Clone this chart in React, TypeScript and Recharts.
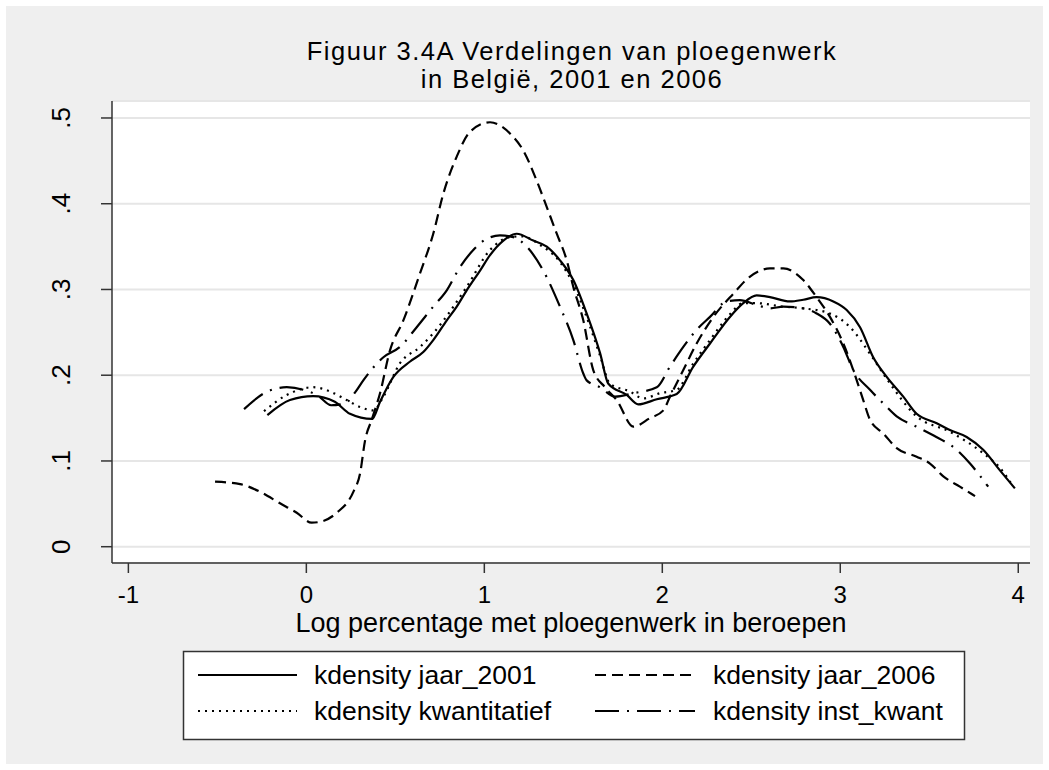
import React from 'react';
import { LineChart, Line, XAxis, YAxis, CartesianGrid } from 'recharts';

const xTicks = [-1, 0, 1, 2, 3, 4];
const yTicks = [0, 0.1, 0.2, 0.3, 0.4, 0.5];
const yTickLabels = ['0', '.1', '.2', '.3', '.4', '.5'];

const seriesNames = ['kdensity jaar_2001', 'kdensity jaar_2006', 'kdensity kwantitatief', 'kdensity inst_kwant'];

const x2001 = [-0.219, -0.092, 0.038, 0.16, 0.245, 0.369, 0.414, 0.489, 0.583, 0.657, 0.713, 0.789, 0.845, 0.901, 0.976, 1.032, 1.107, 1.182, 1.275, 1.351, 1.425, 1.5, 1.575, 1.65, 1.697, 1.8, 1.865, 1.969, 2.081, 2.174, 2.268, 2.38, 2.455, 2.53, 2.605, 2.717, 2.792, 2.867, 2.961, 3.036, 3.111, 3.185, 3.261, 3.354, 3.429, 3.542, 3.616, 3.71, 3.803, 3.897, 3.981];
const y2001 = [0.1535, 0.171, 0.1756, 0.169, 0.155, 0.149, 0.169, 0.198, 0.216, 0.227, 0.241, 0.264, 0.28, 0.299, 0.322, 0.34, 0.357, 0.365, 0.357, 0.35, 0.334, 0.311, 0.272, 0.226, 0.19, 0.177, 0.166, 0.172, 0.178, 0.21, 0.237, 0.268, 0.284, 0.293, 0.291, 0.286, 0.288, 0.291, 0.286, 0.276, 0.256, 0.221, 0.198, 0.175, 0.155, 0.144, 0.136, 0.128, 0.113, 0.089, 0.068];

const x2006 = [-0.513, -0.372, -0.26, -0.148, -0.054, 0.03, 0.077, 0.171, 0.264, 0.302, 0.33, 0.367, 0.414, 0.47, 0.545, 0.639, 0.713, 0.77, 0.845, 0.92, 1.032, 1.144, 1.219, 1.294, 1.351, 1.407, 1.463, 1.5, 1.556, 1.612, 1.678, 1.744, 1.837, 1.931, 2.006, 2.043, 2.118, 2.193, 2.287, 2.399, 2.493, 2.605, 2.68, 2.792, 2.867, 2.942, 3.017, 3.073, 3.129, 3.167, 3.242, 3.317, 3.429, 3.504, 3.579, 3.672, 3.757];
const y2006 = [0.0758, 0.073, 0.064, 0.0506, 0.0396, 0.028, 0.029, 0.0396, 0.064, 0.0855, 0.124, 0.148, 0.179, 0.229, 0.264, 0.319, 0.365, 0.412, 0.455, 0.484, 0.495, 0.482, 0.462, 0.427, 0.396, 0.365, 0.334, 0.303, 0.264, 0.206, 0.186, 0.171, 0.14, 0.15, 0.159, 0.175, 0.206, 0.237, 0.268, 0.295, 0.315, 0.3245, 0.3245, 0.311, 0.291, 0.268, 0.237, 0.206, 0.171, 0.148, 0.132, 0.115, 0.105, 0.097, 0.082, 0.07, 0.059];

const xKwant = [-0.238, -0.11, 0.039, 0.133, 0.227, 0.302, 0.376, 0.433, 0.526, 0.639, 0.713, 0.901, 1.032, 1.144, 1.212, 1.313, 1.425, 1.498, 1.571, 1.65, 1.706, 1.818, 1.893, 1.987, 2.081, 2.172, 2.268, 2.38, 2.453, 2.53, 2.68, 2.792, 2.942, 3.055, 3.167, 3.257, 3.429, 3.616, 3.803, 3.897, 3.972];
const yKwant = [0.158, 0.177, 0.186, 0.181, 0.171, 0.163, 0.159, 0.175, 0.214, 0.233, 0.249, 0.303, 0.346, 0.361, 0.362, 0.352, 0.332, 0.307, 0.27, 0.223, 0.19, 0.181, 0.173, 0.179, 0.183, 0.213, 0.241, 0.271, 0.284, 0.284, 0.28, 0.278, 0.272, 0.256, 0.225, 0.197, 0.152, 0.134, 0.109, 0.092, 0.07];

const xInst = [-0.35, -0.222, -0.11, -0.017, 0.066, 0.139, 0.217, 0.274, 0.32, 0.433, 0.526, 0.62, 0.713, 0.789, 0.863, 0.938, 1.013, 1.088, 1.163, 1.238, 1.331, 1.425, 1.5, 1.556, 1.575, 1.65, 1.734, 1.837, 1.969, 2.043, 2.118, 2.193, 2.268, 2.362, 2.436, 2.53, 2.605, 2.68, 2.792, 2.867, 2.942, 3.017, 3.073, 3.167, 3.242, 3.317, 3.429, 3.522, 3.654, 3.729, 3.831];
const yInst = [0.1605, 0.1807, 0.186, 0.183, 0.176, 0.165, 0.167, 0.18, 0.194, 0.221, 0.233, 0.256, 0.28, 0.299, 0.326, 0.346, 0.359, 0.363, 0.361, 0.35, 0.322, 0.28, 0.241, 0.202, 0.194, 0.186, 0.175, 0.179, 0.186, 0.21, 0.233, 0.253, 0.268, 0.286, 0.2875, 0.282, 0.278, 0.28, 0.278, 0.272, 0.26, 0.233, 0.206, 0.183, 0.167, 0.152, 0.14, 0.13, 0.113, 0.097, 0.07];

const toData = (xs: number[], ys: number[]) => xs.map((x, i) => ({ x, y: ys[i] }));
const d2001 = toData(x2001, y2001);
const d2006 = toData(x2006, y2006);
const dKwant = toData(xKwant, yKwant);
const dInst = toData(xInst, yInst);

const FONT = '"Liberation Sans", Arial, Helvetica, sans-serif';
const DASH_2006 = '11 6';
const DOT = '2 5';
const DASHDOT = '24 8 2 8';

const YTick = (props: any) => {
  const { y, payload, index } = props;
  const label = yTickLabels[yTicks.indexOf(payload.value)] ?? String(payload.value);
  return (
    <text x={70} y={y} transform={`rotate(-90, 70, ${y})`} textAnchor="middle" fontSize={26} fontFamily={FONT} fill="#000" key={index}>
      {label}
    </text>
  );
};

const XTick = (props: any) => {
  const { x, payload, index } = props;
  return (
    <text x={x} y={603} textAnchor="middle" fontSize={24} fontFamily={FONT} fill="#000" key={index}>
      {payload.value}
    </text>
  );
};

export default function App() {
  return (
    <div style={{ position: 'relative', width: 1049, height: 770, background: '#fff', fontFamily: FONT }}>
      <style>{`body{margin:0}`}</style>
      <div style={{ position: 'absolute', left: 6, top: 6, width: 1037, height: 758, background: '#efefef' }} />
      <div style={{ position: 'absolute', left: 0, top: 0 }}>
        <LineChart width={1049} height={770} margin={{ top: 101, right: 19, bottom: 177, left: 52 }}>
          <CartesianGrid vertical={false} horizontal={true} fill="#ffffff" stroke="#e6e6e6" strokeWidth={2} />
          <XAxis
            dataKey="x"
            type="number"
            domain={[-1.092, 4.066]}
            ticks={xTicks}
            allowDataOverflow
            height={30}
            tickSize={10}
            axisLine={{ stroke: '#333', strokeWidth: 1.5 }}
            tickLine={{ stroke: '#333', strokeWidth: 1.5 }}
            tick={<XTick />}
          />
          <YAxis
            type="number"
            domain={[-0.019, 0.5198]}
            ticks={yTicks}
            allowDataOverflow
            width={60}
            tickSize={11}
            axisLine={{ stroke: '#333', strokeWidth: 1.5 }}
            tickLine={{ stroke: '#333', strokeWidth: 1.5 }}
            tick={<YTick />}
          />
          <Line data={d2001} dataKey="y" name={seriesNames[0]} type="monotone" stroke="#000" strokeWidth={2.2} dot={false} isAnimationActive={false} />
          <Line data={d2006} dataKey="y" name={seriesNames[1]} type="monotone" stroke="#000" strokeWidth={2.2} strokeDasharray={DASH_2006} dot={false} isAnimationActive={false} />
          <Line data={dKwant} dataKey="y" name={seriesNames[2]} type="monotone" stroke="#000" strokeWidth={2.2} strokeDasharray={DOT} dot={false} isAnimationActive={false} />
          <Line data={dInst} dataKey="y" name={seriesNames[3]} type="monotone" stroke="#000" strokeWidth={2.2} strokeDasharray={DASHDOT} dot={false} isAnimationActive={false} />
        </LineChart>
      </div>
      <svg width={1049} height={770} style={{ position: 'absolute', left: 0, top: 0, pointerEvents: 'none' }} fontFamily={FONT}>
        <text x={572} y={60} textAnchor="middle" fontSize={25.5} letterSpacing={1.5} fill="#000">Figuur 3.4A Verdelingen van ploegenwerk</text>
        <text x={572} y={88} textAnchor="middle" fontSize={25.5} letterSpacing={1.5} fill="#000">in België, 2001 en 2006</text>
        <text x={571} y={632} textAnchor="middle" fontSize={27} fill="#000">Log percentage met ploegenwerk in beroepen</text>
        <rect x={183.5} y={651.5} width={781} height={88} fill="#fff" stroke="#333" strokeWidth={1.5} />
        <line x1={198} y1={675} x2={297} y2={675} stroke="#000" strokeWidth={2.2} />
        <text x={314} y={684} fontSize={26.5} fill="#000">{seriesNames[0]}</text>
        <line x1={595} y1={675} x2={695} y2={675} stroke="#000" strokeWidth={2.2} strokeDasharray={DASH_2006} />
        <text x={713} y={684} fontSize={26.5} fill="#000">{seriesNames[1]}</text>
        <line x1={198} y1={711} x2={297} y2={711} stroke="#000" strokeWidth={2.2} strokeDasharray={DOT} />
        <text x={314} y={720} fontSize={26.5} fill="#000">{seriesNames[2]}</text>
        <line x1={595} y1={711} x2={695} y2={711} stroke="#000" strokeWidth={2.2} strokeDasharray={DASHDOT} />
        <text x={713} y={720} fontSize={26.5} fill="#000">{seriesNames[3]}</text>
      </svg>
    </div>
  );
}
